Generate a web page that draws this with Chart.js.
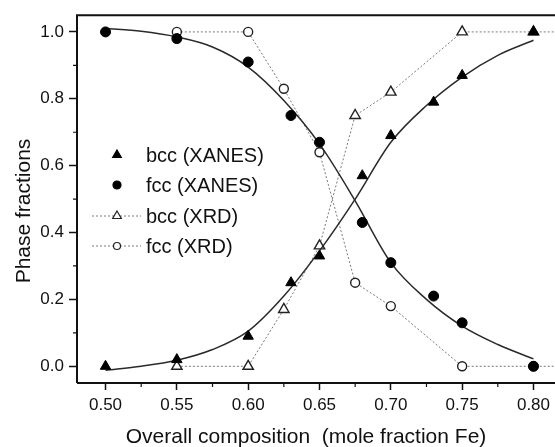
<!DOCTYPE html>
<html>
<head>
<meta charset="utf-8">
<script src="https://cdn.jsdelivr.net/npm/chart.js@4"></script>
<style>
  html, body { margin: 0; padding: 0; background: #fff; overflow: hidden; }
  canvas { display: block; }
</style>
</head>
<body>
<canvas id="phaseChart" width="580" height="447"></canvas>
<script>
// 組成 (Fe モル分率)
const xanesX = [0.50, 0.55, 0.60, 0.63, 0.65, 0.68, 0.70, 0.73, 0.75, 0.80];
const bccXanes = [0.00, 0.02, 0.09, 0.25, 0.33, 0.57, 0.69, 0.79, 0.87, 1.00];
const fccXanes = [1.00, 0.98, 0.91, 0.75, 0.67, 0.43, 0.31, 0.21, 0.13, 0.00];

const xrdX = [0.55, 0.60, 0.625, 0.65, 0.675, 0.70, 0.75, 0.80, 0.85];
const bccXrd = [0.00, 0.00, 0.17, 0.36, 0.75, 0.82, 1.00, 1.00, 1.00];
const fccXrd = [1.00, 1.00, 0.83, 0.64, 0.25, 0.18, 0.00, 0.00, 0.00];

// フィット曲線
const fitX = [0.50, 0.525, 0.55, 0.575, 0.60, 0.625, 0.65, 0.675, 0.70, 0.725, 0.75, 0.775, 0.80];
const bccFit = [-0.012, 0.000, 0.018, 0.050, 0.105, 0.210, 0.345, 0.500, 0.670, 0.780, 0.865, 0.930, 0.975];
const fccFit = [1.010, 1.002, 0.985, 0.955, 0.895, 0.795, 0.665, 0.495, 0.310, 0.200, 0.120, 0.065, 0.022];

const xTicks = [0.50, 0.55, 0.60, 0.65, 0.70, 0.75, 0.80];
const yTicks = [0.0, 0.2, 0.4, 0.6, 0.8, 1.0];

const xTitle = 'Overall composition  (mole fraction Fe)';
const yTitle = 'Phase fractions';

const FONT = '"Liberation Sans", Arial, sans-serif';
const INK = '#111';

const pts = (xs, ys) => xs.map((x, i) => ({ x: x, y: ys[i] }));

// 枠線・副目盛・凡例・軸タイトル
const decor = {
    id: 'decor',
    afterDraw(chart) {
        const ctx = chart.ctx;
        const a = chart.chartArea;
        const sx = chart.scales.x;
        const sy = chart.scales.y;

        ctx.save();
        ctx.strokeStyle = INK;
        ctx.lineWidth = 2;
        ctx.beginPath();
        ctx.moveTo(a.left, a.bottom);
        ctx.lineTo(a.left, a.top);
        ctx.lineTo(a.right, a.top);
        ctx.lineTo(a.right, a.bottom);
        ctx.lineTo(a.left, a.bottom);
        ctx.stroke();

        // 副目盛
        ctx.lineWidth = 1.2;
        ctx.beginPath();
        for (let i = 0; i < xTicks.length - 1; i++) {
            const px = sx.getPixelForValue((xTicks[i] + xTicks[i + 1]) / 2);
            ctx.moveTo(px, a.bottom);
            ctx.lineTo(px, a.bottom + 4);
        }
        for (let i = 0; i < yTicks.length - 1; i++) {
            const py = sy.getPixelForValue((yTicks[i] + yTicks[i + 1]) / 2);
            ctx.moveTo(a.left, py);
            ctx.lineTo(a.left - 4, py);
        }
        ctx.stroke();

        // 凡例
        const rows = [155, 185, 216, 246];
        const order = [0, 1, 4, 5];
        ctx.font = '20px ' + FONT;
        ctx.textBaseline = 'middle';
        ctx.fillStyle = INK;
        order.forEach((di, r) => {
            const ds = chart.data.datasets[di];
            const y = rows[r];
            if (ds.showLine) {
                ctx.save();
                ctx.strokeStyle = ds.borderColor;
                ctx.lineWidth = 1;
                ctx.setLineDash(ds.borderDash);
                ctx.beginPath();
                ctx.moveTo(92, y);
                ctx.lineTo(141, y);
                ctx.stroke();
                ctx.restore();
            }
            ctx.save();
            ctx.fillStyle = ds.pointBackgroundColor;
            ctx.strokeStyle = ds.pointBorderColor;
            Chart.helpers.drawPoint(ctx, {
                pointStyle: ds.pointStyle,
                radius: ds.pointRadius - 1,
                borderWidth: ds.pointBorderWidth,
                rotation: 0
            }, 117, y);
            ctx.restore();
            ctx.fillText(ds.label, 146, y + 1);
        });

        // 軸タイトル
        ctx.font = '21px ' + FONT;
        ctx.textAlign = 'center';
        ctx.textBaseline = 'alphabetic';
        ctx.fillText(xTitle, 306, 443);
        ctx.textBaseline = 'middle';
        ctx.translate(24, 211);
        ctx.rotate(-Math.PI / 2);
        ctx.fillText(yTitle, 0, 0);
        ctx.restore();
    }
};

const ctx = document.getElementById('phaseChart').getContext('2d');
const phaseChart = new Chart(ctx, {
    type: 'scatter',
    data: {
        datasets: [
            {
                label: 'bcc (XANES)',
                data: pts(xanesX, bccXanes),
                pointStyle: 'triangle',
                pointRadius: 6,
                pointBackgroundColor: '#000',
                pointBorderColor: '#000',
                pointBorderWidth: 1,
                showLine: false
            },
            {
                label: 'fcc (XANES)',
                data: pts(xanesX, fccXanes),
                pointStyle: 'circle',
                pointRadius: 5,
                pointBackgroundColor: '#000',
                pointBorderColor: '#000',
                pointBorderWidth: 1,
                showLine: false
            },
            {
                label: 'bcc fit',
                data: pts(fitX, bccFit),
                showLine: true,
                pointRadius: 0,
                borderColor: '#2a2a2a',
                borderWidth: 1.5,
                cubicInterpolationMode: 'monotone'
            },
            {
                label: 'fcc fit',
                data: pts(fitX, fccFit),
                showLine: true,
                pointRadius: 0,
                borderColor: '#2a2a2a',
                borderWidth: 1.5,
                cubicInterpolationMode: 'monotone'
            },
            {
                label: 'bcc (XRD)',
                data: pts(xrdX, bccXrd),
                showLine: true,
                borderColor: '#7a7a7a',
                borderWidth: 1,
                borderDash: [2, 2],
                pointStyle: 'triangle',
                pointRadius: 6,
                pointBackgroundColor: '#fff',
                pointBorderColor: '#222',
                pointBorderWidth: 1.4
            },
            {
                label: 'fcc (XRD)',
                data: pts(xrdX, fccXrd),
                showLine: true,
                borderColor: '#7a7a7a',
                borderWidth: 1,
                borderDash: [2, 2],
                pointStyle: 'circle',
                pointRadius: 4.5,
                pointBackgroundColor: '#fff',
                pointBorderColor: '#222',
                pointBorderWidth: 1.4
            }
        ]
    },
    options: {
        responsive: false,
        animation: false,
        layout: { padding: { top: 13, right: 18, left: 0, bottom: 0 } },
        plugins: {
            legend: { display: false },
            tooltip: { enabled: false }
        },
        scales: {
            x: {
                type: 'linear',
                min: 0.48,
                max: 0.82,
                afterBuildTicks: s => { s.ticks = xTicks.map(v => ({ value: v })); },
                afterFit: s => { s.height = 64; },
                border: { display: false },
                grid: { drawOnChartArea: false, tickLength: 7, tickWidth: 1.5, tickColor: INK },
                ticks: {
                    callback: v => v.toFixed(2),
                    font: { size: 17, family: FONT },
                    color: INK,
                    padding: 5,
                    maxRotation: 0
                }
            },
            y: {
                type: 'linear',
                min: -0.05,
                max: 1.05,
                afterBuildTicks: s => { s.ticks = yTicks.map(v => ({ value: v })); },
                afterFit: s => { s.width = 77; },
                border: { display: false },
                grid: { drawOnChartArea: false, tickLength: 8, tickWidth: 1.5, tickColor: INK },
                ticks: {
                    callback: v => v.toFixed(1),
                    font: { size: 17, family: FONT },
                    color: INK,
                    padding: 5
                }
            }
        }
    },
    plugins: [decor]
});
</script>
</body>
</html>
